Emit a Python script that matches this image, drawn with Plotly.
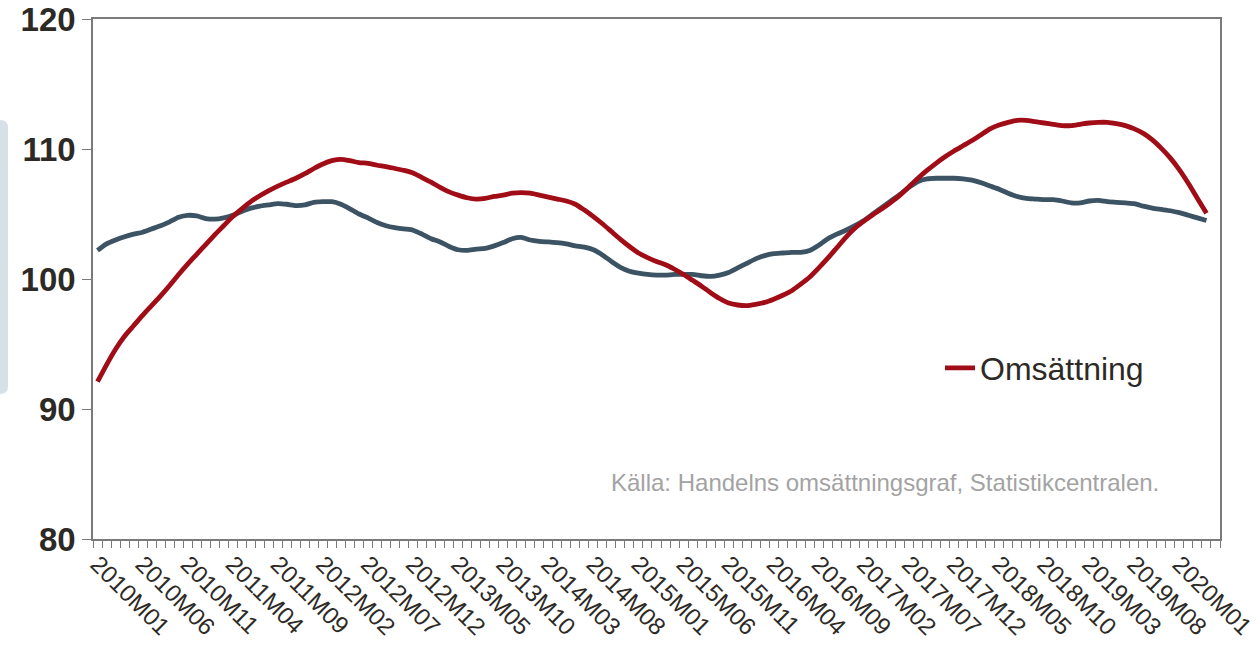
import plotly.graph_objects as go

# Monthly index values, 2010M01 .. 2020M04
omsattning = [
    92.1, 93.4, 94.6, 95.6, 96.4, 97.2, 97.95, 98.7, 99.5, 100.35,
    101.15, 101.9, 102.65, 103.4, 104.1, 104.8, 105.4, 105.95, 106.4, 106.8,
    107.15, 107.45, 107.75, 108.1, 108.5, 108.85, 109.1, 109.2, 109.1, 108.95,
    108.9, 108.75, 108.65, 108.5, 108.35, 108.15, 107.8, 107.45, 107.05, 106.7,
    106.45, 106.25, 106.15, 106.2, 106.35, 106.45, 106.6, 106.65, 106.6, 106.45,
    106.3, 106.15, 106.0, 105.75, 105.3, 104.8, 104.25, 103.65, 103.05, 102.5,
    102.0, 101.65, 101.35, 101.1, 100.75, 100.35, 99.9, 99.45, 98.95, 98.5,
    98.15, 98.0, 97.95, 98.05, 98.2, 98.45, 98.75, 99.1, 99.6, 100.15,
    100.85, 101.6, 102.4, 103.2, 103.9, 104.45, 104.95, 105.4, 105.9, 106.45,
    107.1, 107.75, 108.35, 108.9, 109.4, 109.85, 110.25, 110.65, 111.1, 111.55,
    111.85, 112.05, 112.2, 112.2, 112.1, 112.0, 111.9, 111.8, 111.8, 111.9,
    112.0, 112.05, 112.05, 111.95, 111.8, 111.55, 111.2, 110.7, 110.05, 109.3,
    108.4, 107.35, 106.2, 105.05,
]

second_series = [
    102.2, 102.7, 103.0, 103.25, 103.45, 103.6, 103.85, 104.1, 104.4, 104.75,
    104.9, 104.85, 104.65, 104.6, 104.7, 104.9, 105.2, 105.45, 105.6, 105.7,
    105.8, 105.75, 105.65, 105.7, 105.9, 105.95, 105.95, 105.75, 105.4, 105.0,
    104.7, 104.35, 104.1, 103.95, 103.85, 103.75, 103.45, 103.1, 102.85, 102.5,
    102.25, 102.2, 102.3, 102.35, 102.55, 102.8, 103.1, 103.2, 103.0, 102.9,
    102.85, 102.8, 102.7, 102.55, 102.45, 102.25, 101.85, 101.35, 100.9, 100.6,
    100.45, 100.35, 100.3, 100.3, 100.35, 100.35, 100.35, 100.25, 100.2, 100.3,
    100.5, 100.85, 101.2, 101.55, 101.8, 101.95, 102.0, 102.05, 102.05, 102.2,
    102.6, 103.1, 103.45, 103.75, 104.1, 104.5, 105.0, 105.5, 106.0, 106.5,
    107.05, 107.5, 107.7, 107.75, 107.75, 107.75, 107.7, 107.6, 107.4, 107.15,
    106.9, 106.6, 106.35, 106.2, 106.15, 106.1, 106.1, 106.0, 105.85, 105.85,
    106.0, 106.05, 105.95, 105.9, 105.85, 105.8, 105.6, 105.45, 105.35, 105.25,
    105.1, 104.9, 104.7, 104.5,
]

months = [f"{2010 + k // 12}M{k % 12 + 1:02d}" for k in range(125)]
tick_labels = months[::5]
y_ticks = [80, 90, 100, 110, 120]

x_idx = list(range(len(omsattning)))
tick_pos = list(range(0, len(months), 5))

RED = "#a00d17"
BLUE = "#3b5363"
TXT = "#2d2a26"

fig = go.Figure()
fig.add_trace(go.Scatter(
    x=x_idx, y=second_series, mode="lines", name="",
    line=dict(color=BLUE, width=4.8, shape="spline", smoothing=0.6),
    showlegend=False,
    text=months[:len(second_series)], hoverinfo="text+y",
))
fig.add_trace(go.Scatter(
    x=x_idx, y=omsattning, mode="lines", name="Omsättning",
    line=dict(color=RED, width=4.8, shape="spline", smoothing=0.6),
    text=months[:len(omsattning)], hoverinfo="text+y",
))

# light side panel decoration (pixel -> paper conversion)
L, R, T, B = 93, 1220, 19, 539
def px(xp):
    return (xp - L) / (R - L)
def py(yp):
    return 1 - (yp - T) / (B - T)
x0, x1 = px(-12), px(8)
yt, yb = py(120), py(394)
rx, ry = 8 / (R - L), 8 / (B - T)
path = (f"M {x0},{yt} L {x1 - rx},{yt} Q {x1},{yt} {x1},{yt - ry} "
        f"L {x1},{yb + ry} Q {x1},{yb} {x1 - rx},{yb} L {x0},{yb} Z")

fig.update_layout(
    width=1260, height=651,
    margin=dict(l=L, r=1260 - R, t=T, b=651 - B),
    paper_bgcolor="white", plot_bgcolor="white",
    font=dict(family="Liberation Sans, Arial, sans-serif", color=TXT),
    shapes=[dict(type="path", path=path, xref="paper", yref="paper",
                 fillcolor="#d6e0e7", line=dict(width=0), layer="below")],
    legend=dict(x=px(940), y=py(368), xanchor="left", yanchor="middle",
                font=dict(size=32, color=TXT), bgcolor="rgba(0,0,0,0)"),
    annotations=[dict(
        text="Källa: Handelns omsättningsgraf, Statistikcentralen.",
        xref="paper", yref="paper", x=px(1161), y=py(482),
        xanchor="right", yanchor="middle", showarrow=False,
        font=dict(size=24, color="#a3a3a3"))],
    hovermode="closest",
)
fig.update_xaxes(
    range=[-0.5, len(months) - 0.5], automargin=False,
    tickmode="array", tickvals=tick_pos, ticktext=tick_labels,
    tickangle=45, tickfont=dict(size=24, color=TXT),
    ticks="", showline=True, linecolor="#7a7a7a", linewidth=1.5, mirror=True,
    showgrid=False, zeroline=False,
    minor=dict(tickmode="linear", tick0=-0.5, dtick=1, ticks="outside",
               ticklen=7, tickcolor="#7a7a7a", tickwidth=1.2, showgrid=False),
)
fig.update_yaxes(
    range=[80, 120], automargin=False, tickmode="array", tickvals=y_ticks,
    ticks="outside", ticklen=9, tickcolor="#7a7a7a", tickwidth=1.2,
    tickfont=dict(size=33, color=TXT, weight="bold"),
    showline=True, linecolor="#7a7a7a", linewidth=1.5, mirror=True,
    showgrid=False, zeroline=False,
)

fig.write_html("out.html",
               config={"displayModeBar": False},
               post_script="document.body.style.margin='0';"
                           "document.body.style.padding='0';")
